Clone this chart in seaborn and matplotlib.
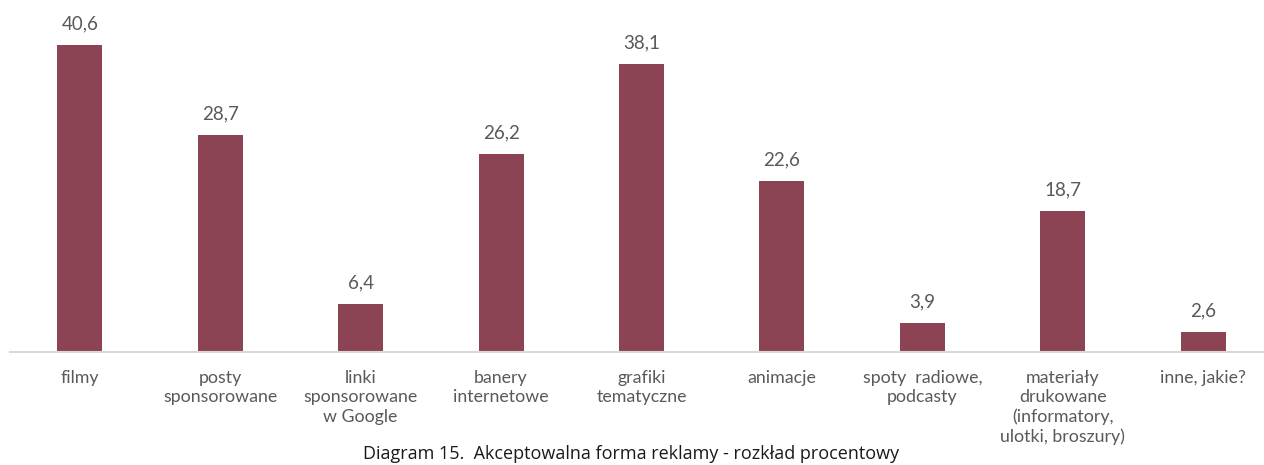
import matplotlib
matplotlib.use("Agg")
import matplotlib.pyplot as plt
import seaborn as sns
import pandas as pd

categories = ["filmy", "posty\nsponsorowane", "linki\nsponsorowane\nw Google",
              "banery\ninternetowe", "grafiki\ntematyczne", "animacje",
              "spoty  radiowe,\npodcasty", "materiały\ndrukowane\n(informatory,\nulotki, broszury)",
              "inne, jakie?"]
values = [40.6, 28.7, 6.4, 26.2, 38.1, 22.6, 3.9, 18.7, 2.6]
caption = "Diagram 15.  Akceptowalna forma reklamy - rozkład procentowy"

sns.set_theme(style="white")
plt.rcParams['font.family'] = ['Lato', 'DejaVu Sans']

df = pd.DataFrame({"cat": categories, "val": values})

fig = plt.figure(figsize=(12.64, 4.65), dpi=100)
ax = fig.add_axes([9.5/1264, (465-352)/465, 1264/1264, 352/465])
sns.barplot(data=df, x="cat", y="val", color="#8C4454", width=0.32,
            saturation=1, ax=ax, edgecolor="none")
ax.set_xlim(-0.5, 8.5)
ax.set_ylim(0, 46.56)
ax.set_xlabel("")
ax.set_ylabel("")
ax.set_yticks([])
for s in ["top", "right", "left"]:
    ax.spines[s].set_visible(False)
ax.spines["bottom"].set_color("#D9D9D9")
ax.spines["bottom"].set_linewidth(1.5)
ax.tick_params(axis="x", length=0, pad=13, labelsize=12.8, labelcolor="#595959")
for t in ax.get_xticklabels():
    t.set_multialignment("center")
    t.set_linespacing(1.25)
ax.bar_label(ax.containers[0], labels=[f"{v:.1f}".replace(".", ",") for v in values],
             padding=9, fontsize=13.5, color="#595959")

fig.text(631/1264, 1 - 463/465, caption, ha="center", va="bottom",
         fontsize=13, color="#1a1a1a", family=["Open Sans", "DejaVu Sans"])

fig.savefig("out.png", dpi=100, facecolor="white")
